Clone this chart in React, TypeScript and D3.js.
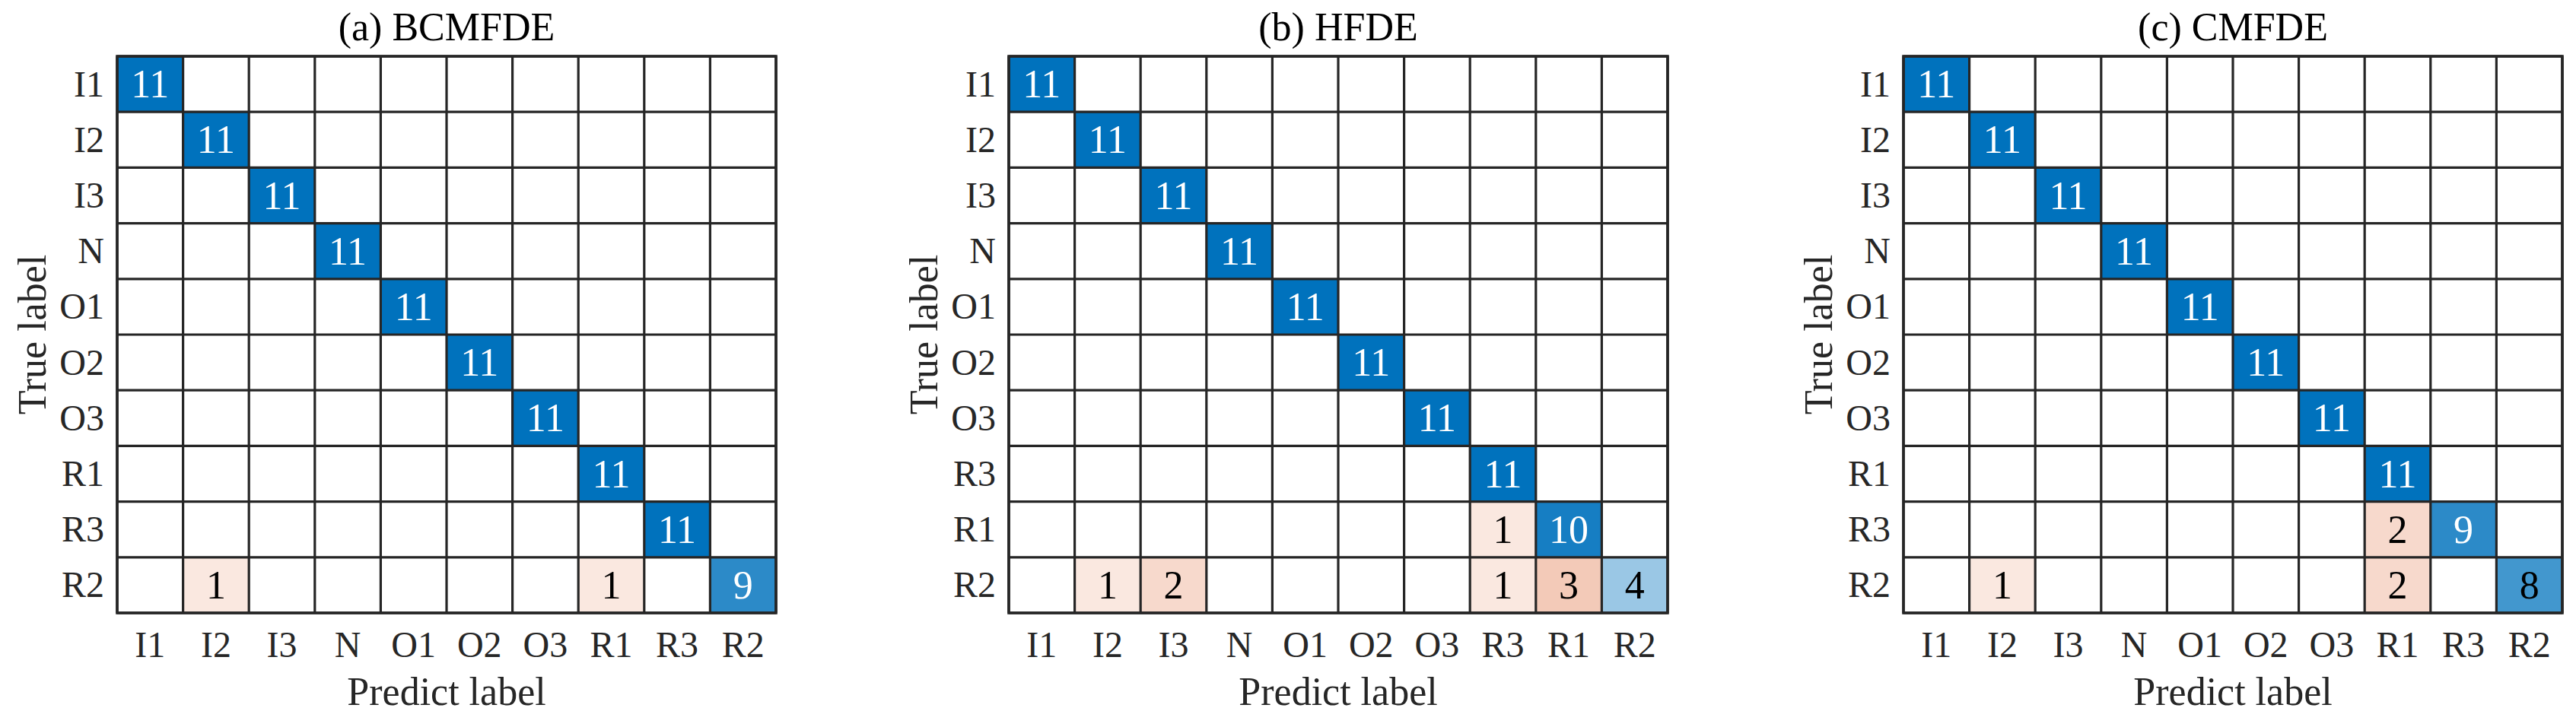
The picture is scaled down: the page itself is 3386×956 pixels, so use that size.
import React from "react";
import * as d3 from "d3";

const titles = ["(a) BCMFDE", "(b) HFDE", "(c) CMFDE"];

const labelsA = ["I1", "I2", "I3", "N", "O1", "O2", "O3", "R1", "R3", "R2"];
const labelsB = ["I1", "I2", "I3", "N", "O1", "O2", "O3", "R3", "R1", "R2"];
const labelsC = ["I1", "I2", "I3", "N", "O1", "O2", "O3", "R1", "R3", "R2"];

// rows = true label, columns = predicted label
const matrixA = [
  [11, 0, 0, 0, 0, 0, 0, 0, 0, 0],
  [0, 11, 0, 0, 0, 0, 0, 0, 0, 0],
  [0, 0, 11, 0, 0, 0, 0, 0, 0, 0],
  [0, 0, 0, 11, 0, 0, 0, 0, 0, 0],
  [0, 0, 0, 0, 11, 0, 0, 0, 0, 0],
  [0, 0, 0, 0, 0, 11, 0, 0, 0, 0],
  [0, 0, 0, 0, 0, 0, 11, 0, 0, 0],
  [0, 0, 0, 0, 0, 0, 0, 11, 0, 0],
  [0, 0, 0, 0, 0, 0, 0, 0, 11, 0],
  [0, 1, 0, 0, 0, 0, 0, 1, 0, 9],
];
const matrixB = [
  [11, 0, 0, 0, 0, 0, 0, 0, 0, 0],
  [0, 11, 0, 0, 0, 0, 0, 0, 0, 0],
  [0, 0, 11, 0, 0, 0, 0, 0, 0, 0],
  [0, 0, 0, 11, 0, 0, 0, 0, 0, 0],
  [0, 0, 0, 0, 11, 0, 0, 0, 0, 0],
  [0, 0, 0, 0, 0, 11, 0, 0, 0, 0],
  [0, 0, 0, 0, 0, 0, 11, 0, 0, 0],
  [0, 0, 0, 0, 0, 0, 0, 11, 0, 0],
  [0, 0, 0, 0, 0, 0, 0, 1, 10, 0],
  [0, 1, 2, 0, 0, 0, 0, 1, 3, 4],
];
const matrixC = [
  [11, 0, 0, 0, 0, 0, 0, 0, 0, 0],
  [0, 11, 0, 0, 0, 0, 0, 0, 0, 0],
  [0, 0, 11, 0, 0, 0, 0, 0, 0, 0],
  [0, 0, 0, 11, 0, 0, 0, 0, 0, 0],
  [0, 0, 0, 0, 11, 0, 0, 0, 0, 0],
  [0, 0, 0, 0, 0, 11, 0, 0, 0, 0],
  [0, 0, 0, 0, 0, 0, 11, 0, 0, 0],
  [0, 0, 0, 0, 0, 0, 0, 11, 0, 0],
  [0, 0, 0, 0, 0, 0, 0, 2, 9, 0],
  [0, 1, 0, 0, 0, 0, 0, 2, 0, 8],
];

const panels = [
  { title: titles[0], labels: labelsA, matrix: matrixA },
  { title: titles[1], labels: labelsB, matrix: matrixB },
  { title: titles[2], labels: labelsC, matrix: matrixC },
];

const W = 3386;
const H = 956;
const panelLefts = [154, 1326, 2502];
const gridTop = 74;
const gridW = 866;
const gridH = 732;
const FONT = "'Liberation Serif', 'Times New Roman', serif";
const diagColor = "#0072BD";
const offColor = "#D95319";
const lineColor = "#262626";

function Panel({ left, title, labels, matrix }) {
  const x = d3.scaleBand().domain(labels).range([left, left + gridW]);
  const y = d3.scaleBand().domain(labels).range([gridTop, gridTop + gridH]);
  const maxV = d3.max(matrix.flat());
  const tScale = d3.scaleLinear().domain([0, maxV]).range([0.05, 1]);
  const diagI = d3.interpolateRgb("#ffffff", diagColor);
  const offI = d3.interpolateRgb("#ffffff", offColor);
  const cells = [];
  matrix.forEach((row, i) =>
    row.forEach((v, j) => {
      if (v > 0) cells.push({ i, j, v });
    })
  );
  const cx = left + gridW / 2;
  const cy = gridTop + gridH / 2;
  return (
    <g>
      {cells.map((c) => {
        const fill = c.i === c.j ? diagI(tScale(c.v)) : offI(tScale(c.v));
        const col = d3.rgb(fill);
        const lum = (0.299 * col.r + 0.587 * col.g + 0.114 * col.b) / 255;
        return (
          <g key={`${c.i}-${c.j}`}>
            <rect
              x={x(labels[c.j])}
              y={y(labels[c.i])}
              width={x.bandwidth()}
              height={y.bandwidth()}
              fill={fill}
            />
            <text
              x={x(labels[c.j]) + x.bandwidth() / 2}
              y={y(labels[c.i]) + y.bandwidth() / 2 + 17.5}
              textAnchor="middle"
              fontFamily={FONT}
              fontSize={52}
              fill={lum < 0.5 ? "#ffffff" : "#000000"}
            >
              {c.v}
            </text>
          </g>
        );
      })}
      {d3.range(labels.length + 1).map((k) => (
        <line
          key={`v${k}`}
          x1={left + k * x.bandwidth()}
          x2={left + k * x.bandwidth()}
          y1={gridTop}
          y2={gridTop + gridH}
          stroke={lineColor}
          strokeWidth={3.2}
        />
      ))}
      {d3.range(labels.length + 1).map((k) => (
        <line
          key={`h${k}`}
          x1={left}
          x2={left + gridW}
          y1={gridTop + k * y.bandwidth()}
          y2={gridTop + k * y.bandwidth()}
          stroke={lineColor}
          strokeWidth={3.2}
        />
      ))}
      <rect x={left} y={gridTop} width={gridW} height={gridH} fill="none" stroke={lineColor} strokeWidth={3.6} />
      {labels.map((l) => (
        <text
          key={`yl${l}`}
          x={left - 17}
          y={y(l) + y.bandwidth() / 2 + 16}
          textAnchor="end"
          fontFamily={FONT}
          fontSize={48}
          fill={lineColor}
        >
          {l}
        </text>
      ))}
      {labels.map((l) => (
        <text
          key={`xl${l}`}
          x={x(l) + x.bandwidth() / 2}
          y={gridTop + gridH + 58}
          textAnchor="middle"
          fontFamily={FONT}
          fontSize={48}
          fill={lineColor}
        >
          {l}
        </text>
      ))}
      <text x={cx} y={53} textAnchor="middle" fontFamily={FONT} fontSize={52} fill="#000">
        {title}
      </text>
      <text x={cx} y={927} textAnchor="middle" fontFamily={FONT} fontSize={52} fill={lineColor}>
        Predict label
      </text>
      <text
        transform={`translate(${left - 94},${cy}) rotate(-90)`}
        textAnchor="middle"
        fontFamily={FONT}
        fontSize={52}
        fill={lineColor}
      >
        True label
      </text>
    </g>
  );
}

export default function App() {
  return (
    <svg
      width={W}
      height={H}
      viewBox={`0 0 ${W} ${H}`}
      style={{ position: "absolute", left: 0, top: 0, background: "#fff" }}
    >
      <rect x={0} y={0} width={W} height={H} fill="#fff" />
      {panels.map((p, k) => (
        <Panel key={k} left={panelLefts[k]} title={p.title} labels={p.labels} matrix={p.matrix} />
      ))}
    </svg>
  );
}
